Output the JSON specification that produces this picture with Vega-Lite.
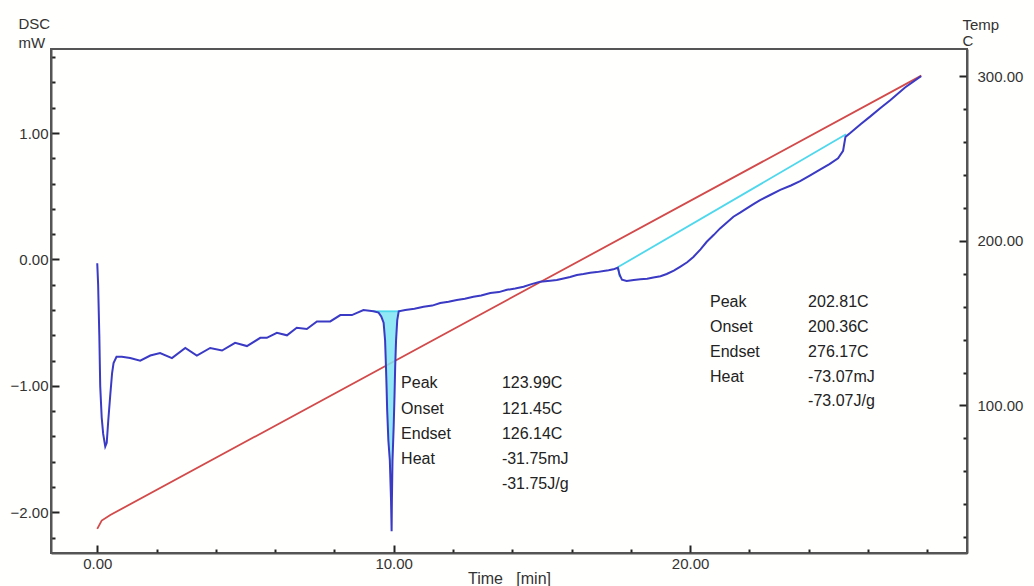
{
  "$schema": "https://vega.github.io/schema/vega-lite/v6.json",
  "width": 916,
  "height": 504,
  "autosize": {"type": "none"},
  "padding": {"left": 51, "top": 49, "right": 67, "bottom": 33},
  "background": "#fffffd",
  "config": {
    "view": {"stroke": "#555555", "strokeWidth": 2},
    "axis": {
      "grid": false,
      "domainColor": "#555555",
      "domainWidth": 2,
      "labelFont": "Liberation Sans",
      "labelFontSize": 15,
      "labelColor": "#333333",
      "labelOverlap": false,
      "labelFlush": false,
      "titleFont": "Liberation Sans",
      "titleFontSize": 15,
      "titleFontWeight": "normal",
      "titleColor": "#333333"
    }
  },
  "datasets": {
    "temp": [
      {"t": 0.0, "T": 25},
      {"t": 0.15, "T": 30},
      {"t": 0.44, "T": 33.4},
      {"t": 27.8, "T": 300.5}
    ],
    "dsc": [
      {"t": 0.00, "mW": -0.03},
      {"t": 0.03, "mW": -0.20},
      {"t": 0.07, "mW": -0.60},
      {"t": 0.10, "mW": -1.00},
      {"t": 0.15, "mW": -1.25},
      {"t": 0.20, "mW": -1.38},
      {"t": 0.27, "mW": -1.48},
      {"t": 0.32, "mW": -1.45},
      {"t": 0.37, "mW": -1.28},
      {"t": 0.44, "mW": -1.07},
      {"t": 0.50, "mW": -0.90},
      {"t": 0.55, "mW": -0.82},
      {"t": 0.65, "mW": -0.77},
      {"t": 0.83, "mW": -0.77},
      {"t": 1.11, "mW": -0.78},
      {"t": 1.45, "mW": -0.80},
      {"t": 1.79, "mW": -0.76},
      {"t": 2.12, "mW": -0.74},
      {"t": 2.52, "mW": -0.78},
      {"t": 2.97, "mW": -0.70},
      {"t": 3.36, "mW": -0.76},
      {"t": 3.81, "mW": -0.70},
      {"t": 4.21, "mW": -0.72},
      {"t": 4.65, "mW": -0.66},
      {"t": 5.05, "mW": -0.685},
      {"t": 5.50, "mW": -0.62},
      {"t": 5.72, "mW": -0.62},
      {"t": 6.06, "mW": -0.58},
      {"t": 6.40, "mW": -0.60},
      {"t": 6.73, "mW": -0.54},
      {"t": 7.07, "mW": -0.55},
      {"t": 7.41, "mW": -0.49},
      {"t": 7.86, "mW": -0.49},
      {"t": 8.20, "mW": -0.44},
      {"t": 8.59, "mW": -0.44},
      {"t": 8.98, "mW": -0.40},
      {"t": 9.32, "mW": -0.41},
      {"t": 9.49, "mW": -0.42},
      {"t": 9.58, "mW": -0.45},
      {"t": 9.66, "mW": -0.50},
      {"t": 9.71, "mW": -0.64},
      {"t": 9.74, "mW": -0.85},
      {"t": 9.76, "mW": -1.01},
      {"t": 9.78, "mW": -1.19},
      {"t": 9.82, "mW": -1.43},
      {"t": 9.87, "mW": -1.59},
      {"t": 9.91, "mW": -1.90},
      {"t": 9.93, "mW": -2.15},
      {"t": 9.94, "mW": -1.90},
      {"t": 9.96, "mW": -1.59},
      {"t": 10.00, "mW": -1.32},
      {"t": 10.03, "mW": -1.06},
      {"t": 10.05, "mW": -0.85},
      {"t": 10.08, "mW": -0.64},
      {"t": 10.12, "mW": -0.48},
      {"t": 10.17, "mW": -0.41},
      {"t": 10.39, "mW": -0.40},
      {"t": 10.70, "mW": -0.39},
      {"t": 11.01, "mW": -0.374},
      {"t": 11.30, "mW": -0.365},
      {"t": 11.57, "mW": -0.345},
      {"t": 11.85, "mW": -0.335},
      {"t": 12.13, "mW": -0.32},
      {"t": 12.40, "mW": -0.31},
      {"t": 12.69, "mW": -0.295},
      {"t": 12.95, "mW": -0.285},
      {"t": 13.26, "mW": -0.266},
      {"t": 13.55, "mW": -0.258},
      {"t": 13.82, "mW": -0.24},
      {"t": 14.10, "mW": -0.23},
      {"t": 14.38, "mW": -0.216},
      {"t": 14.65, "mW": -0.195},
      {"t": 14.94, "mW": -0.176},
      {"t": 15.28, "mW": -0.168},
      {"t": 15.50, "mW": -0.162},
      {"t": 15.73, "mW": -0.15},
      {"t": 15.95, "mW": -0.138},
      {"t": 16.18, "mW": -0.123},
      {"t": 16.40, "mW": -0.115},
      {"t": 16.63, "mW": -0.105},
      {"t": 16.85, "mW": -0.100},
      {"t": 17.08, "mW": -0.092},
      {"t": 17.25, "mW": -0.086},
      {"t": 17.41, "mW": -0.078},
      {"t": 17.56, "mW": -0.065},
      {"t": 17.62, "mW": -0.12},
      {"t": 17.70, "mW": -0.16},
      {"t": 17.86, "mW": -0.17},
      {"t": 18.10, "mW": -0.162},
      {"t": 18.32, "mW": -0.157},
      {"t": 18.55, "mW": -0.152},
      {"t": 18.76, "mW": -0.142},
      {"t": 19.00, "mW": -0.132},
      {"t": 19.21, "mW": -0.115},
      {"t": 19.45, "mW": -0.088},
      {"t": 19.66, "mW": -0.058},
      {"t": 19.90, "mW": -0.022},
      {"t": 20.11, "mW": 0.02},
      {"t": 20.35, "mW": 0.08},
      {"t": 20.56, "mW": 0.14},
      {"t": 20.80, "mW": 0.195},
      {"t": 21.01, "mW": 0.246},
      {"t": 21.25, "mW": 0.295},
      {"t": 21.46, "mW": 0.338},
      {"t": 21.70, "mW": 0.372},
      {"t": 21.91, "mW": 0.404},
      {"t": 22.15, "mW": 0.44},
      {"t": 22.36, "mW": 0.47},
      {"t": 22.70, "mW": 0.51},
      {"t": 23.04, "mW": 0.55},
      {"t": 23.40, "mW": 0.585},
      {"t": 23.71, "mW": 0.62},
      {"t": 24.05, "mW": 0.665},
      {"t": 24.38, "mW": 0.71},
      {"t": 24.70, "mW": 0.755},
      {"t": 24.99, "mW": 0.80},
      {"t": 25.16, "mW": 0.86},
      {"t": 25.24, "mW": 0.97},
      {"t": 25.40, "mW": 1.00},
      {"t": 25.75, "mW": 1.07},
      {"t": 26.07, "mW": 1.13},
      {"t": 26.40, "mW": 1.195},
      {"t": 26.75, "mW": 1.26},
      {"t": 27.25, "mW": 1.36},
      {"t": 27.79, "mW": 1.45}
    ],
    "peak1": [
      {"t": 9.49, "mW": -0.42, "base": -0.41},
      {"t": 9.58, "mW": -0.45, "base": -0.41},
      {"t": 9.66, "mW": -0.50, "base": -0.41},
      {"t": 9.71, "mW": -0.64, "base": -0.41},
      {"t": 9.74, "mW": -0.85, "base": -0.41},
      {"t": 9.76, "mW": -1.01, "base": -0.41},
      {"t": 9.78, "mW": -1.19, "base": -0.41},
      {"t": 9.82, "mW": -1.43, "base": -0.41},
      {"t": 9.87, "mW": -1.59, "base": -0.41},
      {"t": 9.91, "mW": -1.90, "base": -0.41},
      {"t": 9.93, "mW": -2.15, "base": -0.41},
      {"t": 9.94, "mW": -1.90, "base": -0.41},
      {"t": 9.96, "mW": -1.59, "base": -0.41},
      {"t": 10.00, "mW": -1.32, "base": -0.41},
      {"t": 10.03, "mW": -1.06, "base": -0.41},
      {"t": 10.05, "mW": -0.85, "base": -0.41},
      {"t": 10.08, "mW": -0.64, "base": -0.41},
      {"t": 10.12, "mW": -0.48, "base": -0.41},
      {"t": 10.17, "mW": -0.41, "base": -0.41}
    ],
    "cyan": [
      {"seg": "b1", "t": 9.31, "mW": -0.41},
      {"seg": "b1", "t": 10.22, "mW": -0.41},
      {"seg": "hook", "t": 17.57, "mW": -0.06},
      {"seg": "hook", "t": 17.63, "mW": -0.14},
      {"seg": "b2", "t": 17.57, "mW": -0.06},
      {"seg": "b2", "t": 25.26, "mW": 0.99}
    ],
    "notes": [
      {"t": 10.25, "mW": -0.978, "s": "Peak"},
      {"t": 10.25, "mW": -1.180, "s": "Onset"},
      {"t": 10.25, "mW": -1.382, "s": "Endset"},
      {"t": 10.25, "mW": -1.579, "s": "Heat"},
      {"t": 13.65, "mW": -0.978, "s": "123.99C"},
      {"t": 13.65, "mW": -1.180, "s": "121.45C"},
      {"t": 13.65, "mW": -1.382, "s": "126.14C"},
      {"t": 13.65, "mW": -1.579, "s": "-31.75mJ"},
      {"t": 13.65, "mW": -1.773, "s": "-31.75J/g"},
      {"t": 20.67, "mW": -0.337, "s": "Peak"},
      {"t": 20.67, "mW": -0.535, "s": "Onset"},
      {"t": 20.67, "mW": -0.733, "s": "Endset"},
      {"t": 20.67, "mW": -0.930, "s": "Heat"},
      {"t": 23.98, "mW": -0.337, "s": "202.81C"},
      {"t": 23.98, "mW": -0.535, "s": "200.36C"},
      {"t": 23.98, "mW": -0.733, "s": "276.17C"},
      {"t": 23.98, "mW": -0.930, "s": "-73.07mJ"},
      {"t": 23.98, "mW": -1.120, "s": "-73.07J/g"}
    ]
  },
  "encoding": {
    "x": {
      "field": "t",
      "type": "quantitative",
      "scale": {"domain": [-1.56, 29.34], "nice": false, "zero": false},
      "axis": {
        "orient": "bottom",
        "values": [0, 2, 4, 6, 8, 10, 12, 14, 16, 18, 20, 22, 24, 26, 28],
        "labelExpr": "datum.value % 10 === 0 ? format(datum.value, '.2f') : ''",
        "ticks": true,
        "tickSize": {"condition": {"test": "datum.value % 10 === 0", "value": -8}, "value": -4},
        "tickColor": "#222222",
        "tickWidth": 2,
        "labelPadding": 11,
        "title": "Time\u00a0\u00a0\u00a0[min]",
        "titleFontSize": 16,
        "titleAlign": "center",
        "titleBaseline": "alphabetic",
        "titleX": 458,
        "titleY": 30
      }
    }
  },
  "layer": [
    {
      "data": {"name": "temp"},
      "mark": {"type": "line", "color": "#d24a4a", "strokeWidth": 1.8},
      "encoding": {
        "y": {
          "field": "T",
          "type": "quantitative",
          "scale": {"domain": [10.3, 316.7], "nice": false, "zero": false},
          "axis": {
            "orient": "right",
            "values": [20, 40, 60, 80, 100, 120, 140, 160, 180, 200, 220, 240, 260, 280, 300],
            "labelExpr": "datum.value % 100 === 0 ? format(datum.value, '.2f') : ''",
            "ticks": true,
            "tickSize": {"condition": {"test": "datum.value % 100 === 0", "value": -8}, "value": -4},
            "tickColor": "#222222",
            "tickWidth": 2,
            "labelPadding": 18,
            "title": ["Temp", "\u2002C"],
            "titleAngle": 0,
            "titleAlign": "left",
            "titleBaseline": "alphabetic",
            "titleX": -5,
            "titleY": -20,
            "titleLineHeight": 16
          }
        }
      }
    },
    {
      "data": {"name": "peak1"},
      "mark": {"type": "area", "color": "#7fe4f2", "opacity": 0.85},
      "encoding": {
        "y": {"field": "mW", "type": "quantitative", "scale": {"domain": [-2.322, 1.665], "nice": false, "zero": false}, "axis": null},
        "y2": {"field": "base"}
      }
    },
    {
      "data": {"name": "cyan"},
      "mark": {"type": "line", "color": "#4fd8ec", "strokeWidth": 1.8},
      "encoding": {
        "y": {"field": "mW", "type": "quantitative", "scale": {"domain": [-2.322, 1.665], "nice": false, "zero": false}, "axis": null},
        "detail": {"field": "seg"}
      }
    },
    {
      "data": {"name": "dsc"},
      "mark": {"type": "line", "color": "#3a3ac4", "strokeWidth": 2},
      "encoding": {
        "y": {
          "field": "mW",
          "type": "quantitative",
          "scale": {"domain": [-2.322, 1.665], "nice": false, "zero": false},
          "axis": {
            "orient": "left",
            "values": [-2.2, -2, -1.8, -1.6, -1.4, -1.2, -1, -0.8, -0.6, -0.4, -0.2, 0, 0.2, 0.4, 0.6, 0.8, 1, 1.2, 1.4, 1.6],
            "labelExpr": "abs(datum.value - round(datum.value)) < 0.001 ? format(datum.value, '.2f') : ''",
            "ticks": true,
            "tickSize": {"condition": {"test": "abs(datum.value - round(datum.value)) < 0.001", "value": -8}, "value": -4},
            "tickColor": "#222222",
            "tickWidth": 2,
            "labelPadding": 11,
            "title": ["DSC", "mW"],
            "titleAngle": 0,
            "titleAlign": "left",
            "titleBaseline": "alphabetic",
            "titleX": -33,
            "titleY": -21,
            "titleLineHeight": 19
          }
        }
      }
    },
    {
      "data": {"name": "notes"},
      "mark": {"type": "text", "align": "left", "baseline": "middle", "font": "Liberation Sans", "fontSize": 16, "color": "#222222"},
      "encoding": {
        "y": {"field": "mW", "type": "quantitative", "scale": {"domain": [-2.322, 1.665], "nice": false, "zero": false}, "axis": null},
        "text": {"field": "s"}
      }
    }
  ],
  "resolve": {"scale": {"y": "independent"}}
}
